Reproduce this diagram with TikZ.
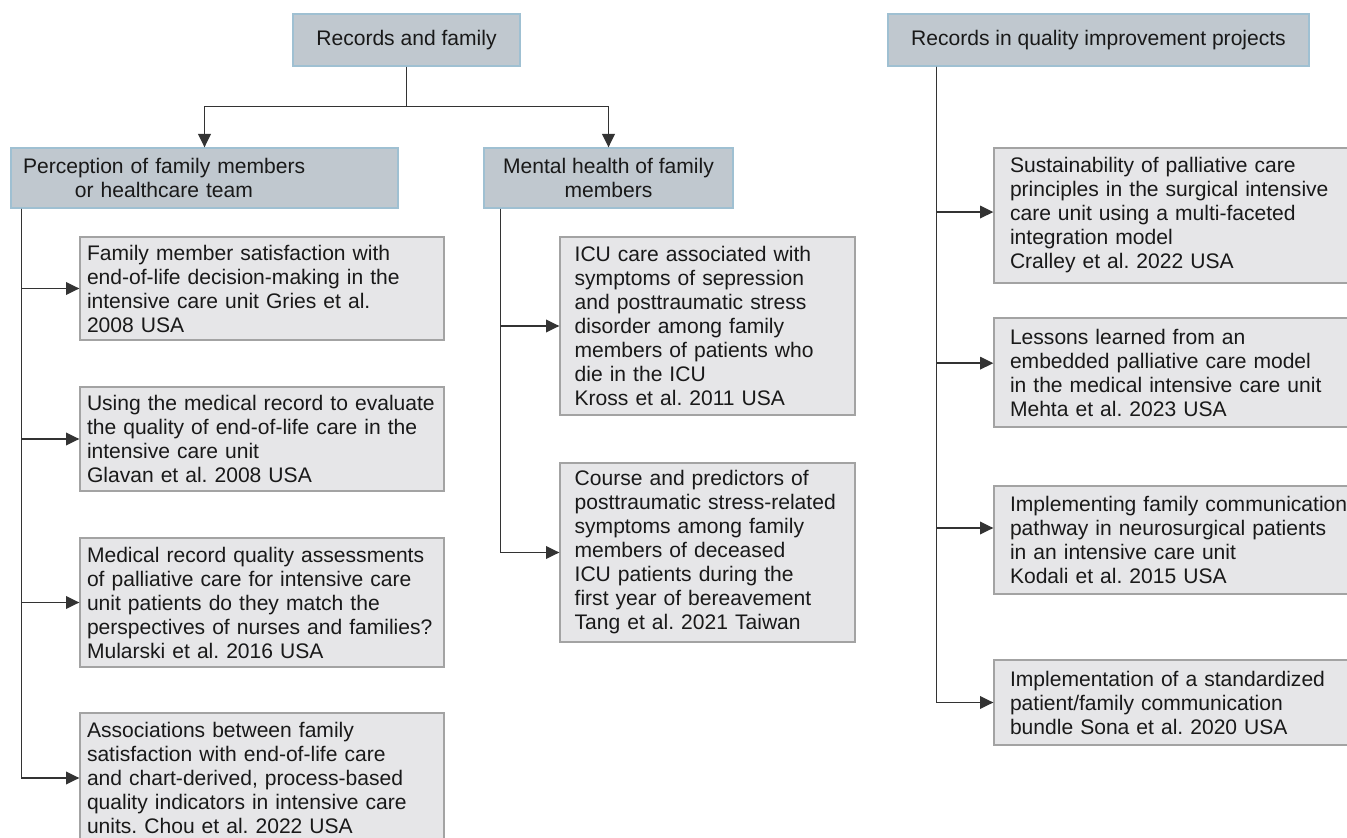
\documentclass[tikz,border=0pt]{standalone}
\usepackage{fontspec}
\setmainfont{Liberation Sans}
\usepackage{tikz}
\usetikzlibrary{arrows.meta}
\definecolor{HeadFill}{HTML}{C0C8CF}
\definecolor{HeadLine}{HTML}{9FC0D2}
\definecolor{LeafFill}{HTML}{E6E6E8}
\definecolor{LeafLine}{HTML}{A3A3A3}
\definecolor{LinkColor}{HTML}{333333}
\newcommand{\InkColor}{black!90}
\frenchspacing

\begin{document}
\begin{tikzpicture}[line join=miter,>={Triangle[length=10pt,width=9.5pt]}
  ,x=0.75pt,y=-0.75pt,font=\fontsize{15.8}{18}\selectfont
  ,head/.style={draw=HeadLine,fill=HeadFill,line width=1pt,inner sep=0pt,text=\InkColor}
  ,leaf/.style={draw=LeafLine,fill=LeafFill,line width=1pt,align=left,inner ysep=2pt,text=\InkColor}
  ,leftleaf/.style={leaf,text width=262.5pt,inner xsep=5.25pt}
  ,midleaf/.style={leaf,text width=199.25pt,inner xsep=11pt}
  ,rightleaf/.style={leaf,text width=261pt,inner xsep=12pt}
  ,link/.style={color=LinkColor,line width=1.1pt}]
  \useasboundingbox (0,0) rectangle (1347,838);
  \clip (0,0) rectangle (1347,838);
  \node[head,minimum width=170.25pt,minimum height=39pt] (rf) at (406.5,40) {Records and family};
  \node[head,minimum width=315.75pt,minimum height=39pt] (rq) at (1098.5,40) {Records in quality improvement projects};
  \node[head,minimum height=45pt,text width=272.25pt,align=left,inner xsep=9pt] (perc) at (204.5,178)
    {Perception of family members\\\hspace*{39pt}or healthcare team};
  \node[head,minimum width=186.75pt,minimum height=45pt,align=center] (mh) at (608.5,178)
    {Mental health of family\\members};
  \node[leftleaf,minimum height=77.25pt] (gries) at (262,288.5) {Family member satisfaction with\\end-of-life decision-making in the\\intensive care unit Gries et al.\\2008 USA};
  \node[leftleaf,minimum height=78pt] (glavan) at (262,439) {Using the medical record to evaluate\\the quality of end-of-life care in the\\intensive care unit\\Glavan et al. 2008 USA};
  \node[leftleaf,minimum height=96.75pt] (mularski) at (262,602.5) {Medical record quality assessments\\of palliative care for intensive care\\unit patients do they match the\\perspectives of nurses and families?\\Mularski et al. 2016 USA};
  \node[leftleaf,minimum height=97.5pt] (chou) at (262,778) {Associations between family\\satisfaction with end-of-life care\\and chart-derived, process-based\\quality indicators in intensive care\\units. Chou et al. 2022 USA};
  \node[midleaf,minimum height=133.5pt] (kross) at (707.5,326) {ICU care associated with\\symptoms of sepression\\and posttraumatic stress\\disorder among family\\members of patients who\\die in the ICU\\Kross et al. 2011 USA};
  \node[midleaf,minimum height=134.25pt] (tang) at (707.5,552.5) {Course and predictors of\\posttraumatic stress-related\\symptoms among family\\members of deceased\\ICU patients during the\\first year of bereavement\\Tang et al. 2021 Taiwan};
  \node[rightleaf,minimum height=101.25pt] (cralley) at (1184,215.5) {Sustainability of palliative care\\principles in the surgical intensive\\care unit using a multi-faceted\\integration model\\Cralley et al. 2022 USA};
  \node[rightleaf,minimum height=81.75pt] (mehta) at (1184,372.5) {Lessons learned from an\\embedded palliative care model\\in the medical intensive care unit\\Mehta et al. 2023 USA};
  \node[rightleaf,minimum height=81pt] (kodali) at (1184,540) {Implementing family communication\\pathway in neurosurgical patients\\in an intensive care unit\\Kodali et al. 2015 USA};
  \node[rightleaf,minimum height=63.75pt] (sona) at (1184,702.5) {Implementation of a standardized\\patient/family communication\\bundle Sona et al. 2020 USA};
  \draw[link] (rf.south) -- ++(0,40) coordinate (rfsplit);
  \draw[link,->] (rfsplit) -| (perc.north);
  \draw[link,->] (rfsplit) -| (mh.north);
  \foreach \nd in {gries,glavan,mularski,chou}
    \draw[link,->] ([xshift=8.25pt]perc.south west) |- (\nd.west);
  \foreach \nd in {kross,tang}
    \draw[link,->] ([xshift=12.75pt]mh.south west) |- (\nd.west);
  \draw[link,->] ([xshift=36.75pt]rq.south west) |- ([yshift=2.6pt]cralley.west);
  \draw[link,->] ([xshift=36.75pt]rq.south west) |- ([yshift=7pt]mehta.west);
  \draw[link,->] ([xshift=36.75pt]rq.south west) |- ([yshift=9pt]kodali.west);
  \draw[link,->] ([xshift=36.75pt]rq.south west) |- (sona.west);
\end{tikzpicture}
\end{document}
